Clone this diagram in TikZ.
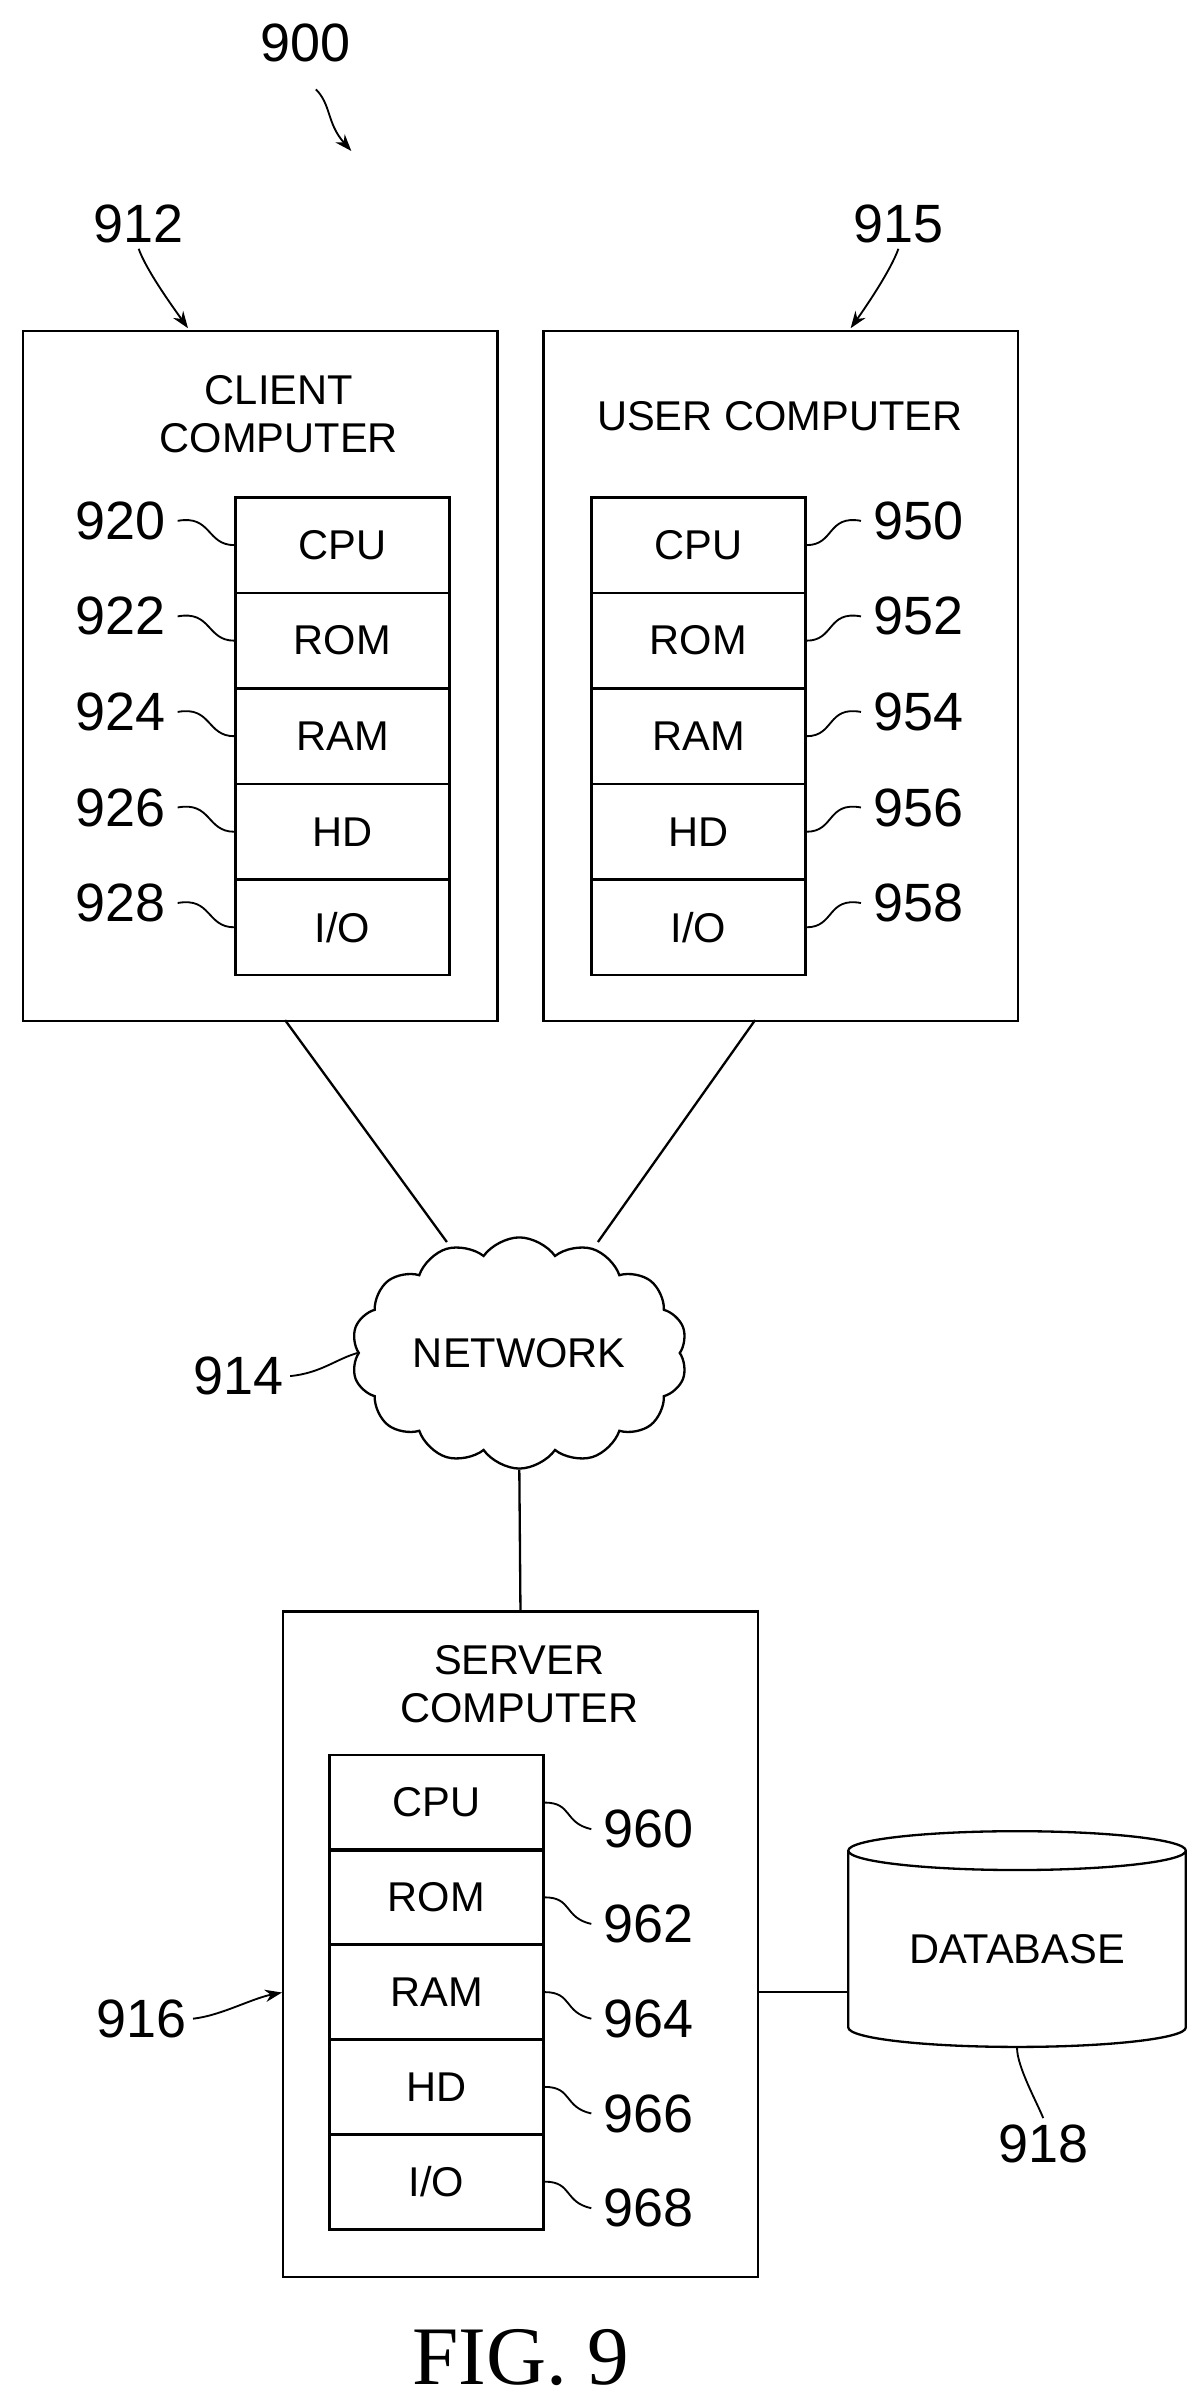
\documentclass[tikz,border=0pt]{standalone}
\usepackage{fontspec}
\setmainfont{Liberation Sans}
\newfontfamily\figfont{Liberation Serif}
\usetikzlibrary{positioning,shapes.symbols,shapes.geometric,arrows.meta}
\begin{document}
\begin{tikzpicture}[x=1pt,y=-1pt,
      line width=1.5pt,
      every node/.style={font=\fontsize{27}{31}\selectfont},
      box/.style={rectangle, draw=black, anchor=north west, inner sep=0pt},
      cell/.style={rectangle, draw=black, minimum width=139pt, minimum height=62pt, anchor=north west, inner sep=0pt},
      num/.style={font=\fontsize{35}{38}\selectfont},
      lead/.style={line width=1.2pt},
      arrow/.style={-{Stealth[length=11pt,width=8pt]}, line width=1.2pt}
  ]
  \useasboundingbox (0,0) rectangle (781,1562);

  % Computers
  \node[box, minimum width=308pt, minimum height=448pt] (CC) at (14,214) {};
  \node[box, minimum width=308pt, minimum height=448pt] (UC) at (352,214) {};
  \node[box, minimum width=308pt, minimum height=432pt] (SC) at (183,1045) {};
  \node[align=center] at (181,269) {CLIENT\\COMPUTER};
  \node at (506,270) {USER COMPUTER};
  \node[align=center] at (337,1093) {SERVER\\COMPUTER};

  % Stacks
  \foreach \t [count=\i] in {CPU,ROM,RAM,HD,I/O} {
    \node[cell] (c\i) at (152,{322+62*(\i-1)}) {\t};
    \node[cell] (u\i) at (383,{322+62*(\i-1)}) {\t};
    \node[cell] (s\i) at (213,{1138+61.5*(\i-1)}) {\t};
  }
  \foreach \n [count=\i] in {920,922,924,926,928} {
    \node[num] (nc\i) at (78,{338+62*(\i-1)}) {\n};
    \draw[lead] ([xshift=4pt]nc\i.east) .. controls +(22,-4) and +(-18,0) .. (c\i.west);
  }
  \foreach \n [count=\i] in {950,952,954,956,958} {
    \node[num] (nu\i) at (596,{338+62*(\i-1)}) {\n};
    \draw[lead] (u\i.east) .. controls +(18,0) and +(-22,-4) .. ([xshift=-4pt]nu\i.west);
  }
  \foreach \n [count=\i] in {960,962,964,966,968} {
    \node[num] (ns\i) at (421,{1187+61.5*(\i-1)}) {\n};
    \draw[lead] (s\i.east) .. controls +(18,0) and +(-18,-4) .. ([xshift=-4pt]ns\i.west);
  }

  % Network
  \node[cloud, draw=black, cloud puffs=14, cloud puff arc=110, aspect=1.5,
        minimum width=218pt, minimum height=150pt, inner sep=0pt] (NET) at (337,878) {NETWORK};
  \coordinate (NL) at (290,806);
  \coordinate (NR) at (388,806);
  \draw (185,662) -- (NL);
  \draw (490,662) -- (NR);
  \draw (NET.south) -- (SC.north);
  \node[num] (n914) at (155,893) {914};
  \draw[lead] (n914.east) .. controls +(20,-2) and +(-14,4) .. (NET.west);

  % Database
  \node[cylinder, shape border rotate=90, draw=black, aspect=0.18,
        minimum width=219pt, minimum height=140pt, inner sep=0pt] (DB) at (660,1265) {\raisebox{-10pt}{DATABASE}};
  \draw (SC.east |- s3.east) -- (DB.west |- s3.east);
  \node[num] (n918) at (677,1391) {918};
  \draw[lead] (DB.south) .. controls +(0,12) and +(-4,-10) .. (n918.north);

  % Reference numerals
  \node[num] (n900) at (198,28) {900};
  \node[num] (n912) at (90,145) {912};
  \node[num] (n915) at (583,145) {915};
  \node[num] (n916) at (92,1310) {916};
  \coordinate (A900) at (228,98);
  \draw[arrow] (205,58) .. controls (215,68) and (212,80) .. (A900);
  \draw[arrow] (n912.south) .. controls +(5,14) and +(-10,-14) .. (122,213);
  \draw[arrow] (n915.south) .. controls +(-5,14) and +(10,-14) .. (552,213);
  \draw[arrow] (n916.east) .. controls +(18,-2) and +(-20,4) .. (SC.west |- 0,1293);

  \node[font=\figfont\fontsize{54}{58}\selectfont] at (338,1530) {FIG. 9};
\end{tikzpicture}
\end{document}
